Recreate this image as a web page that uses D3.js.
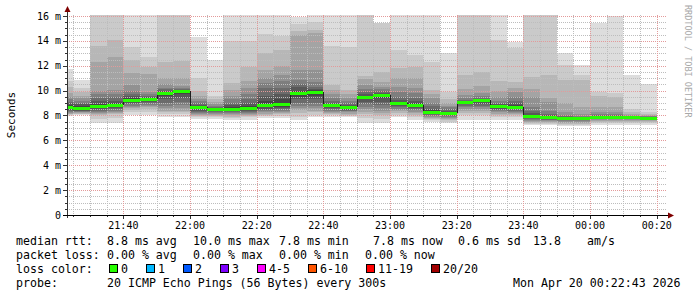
<!DOCTYPE html>
<html>
<head>
<meta charset="utf-8">
<script src="https://cdn.jsdelivr.net/npm/d3@7"></script>
<style>
  body { margin: 0; background: #fff; }
  text { font-family: "DejaVu Sans Mono", monospace; white-space: pre; }
</style>
</head>
<body>
<svg id="chart"></svg>
<script>
// ---- data ----
// 20 sorted ping rtts per 5 minute step, in ms, highest first
const pings = [
  [11.7, 10.8, 10.3, 9.8, 9.5, 9.3, 9.1, 9.0, 8.85, 8.75, 8.65, 8.55, 8.45, 8.35, 8.3, 8.2, 8.15, 8.1, 8.0, 7.94],
  [10.85, 10.2, 9.9, 9.6, 9.4, 9.2, 9.0, 8.9, 8.75, 8.65, 8.55, 8.45, 8.4, 8.35, 8.3, 8.25, 8.2, 8.15, 8.1, 8.0],
  [17.5, 16.5, 13.6, 12.3, 10.0, 9.7, 9.4, 9.15, 8.95, 8.8, 8.72, 8.6, 8.5, 8.4, 8.3, 8.2, 8.1, 8.0, 7.75, 7.42],
  [17.5, 16.5, 14.07, 12.7, 10.05, 9.75, 9.45, 9.2, 9.0, 8.88, 8.8, 8.7, 8.6, 8.5, 8.4, 8.3, 8.2, 8.1, 7.8, 7.42],
  [17, 13.5, 12.5, 11.4, 10.45, 10.0, 9.75, 9.55, 9.4, 9.28, 9.2, 9.1, 9.0, 8.9, 8.8, 8.7, 8.6, 8.45, 8.25, 8.0],
  [17, 12.7, 11.9, 11.3, 9.9, 9.75, 9.6, 9.5, 9.4, 9.33, 9.27, 9.17, 9.07, 8.97, 8.87, 8.77, 8.65, 8.5, 8.3, 8.06],
  [17.5, 16.5, 12.3, 11.0, 10.5, 10.25, 10.1, 10.0, 9.92, 9.86, 9.8, 9.6, 9.3, 9.0, 8.8, 8.6, 8.4, 8.25, 8.1, 7.9],
  [17.5, 16.5, 12.4, 11.0, 10.4, 10.25, 10.15, 10.08, 10.03, 10.0, 9.94, 9.7, 9.4, 9.1, 8.85, 8.6, 8.4, 8.25, 8.1, 7.9],
  [14.33, 11.0, 9.97, 9.6, 9.35, 9.15, 9.0, 8.88, 8.78, 8.7, 8.6, 8.5, 8.4, 8.3, 8.2, 8.1, 8.0, 7.95, 7.85, 7.73],
  [12.5, 9.57, 9.3, 9.1, 8.95, 8.8, 8.7, 8.62, 8.56, 8.52, 8.48, 8.42, 8.35, 8.28, 8.2, 8.12, 8.05, 7.95, 7.85, 7.7],
  [17, 14.0, 10.6, 10.05, 9.6, 9.3, 9.0, 8.85, 8.7, 8.6, 8.5, 8.42, 8.35, 8.28, 8.2, 8.1, 8.0, 7.9, 7.8, 7.64],
  [17, 14.0, 11.9, 10.8, 10.2, 9.7, 9.3, 9.0, 8.8, 8.65, 8.55, 8.45, 8.38, 8.3, 8.22, 8.15, 8.05, 7.95, 7.85, 7.64],
  [17, 14.55, 13.05, 11.66, 10.99, 10.6, 10.2, 9.6, 9.2, 8.9, 8.78, 8.65, 8.55, 8.45, 8.35, 8.25, 8.15, 8.05, 7.95, 7.77],
  [17, 14.4, 13.26, 11.98, 11.25, 10.8, 10.2, 9.7, 9.3, 8.95, 8.85, 8.72, 8.6, 8.5, 8.4, 8.3, 8.2, 8.1, 7.95, 7.77],
  [15.9, 15.35, 14.8, 14.5, 11.66, 10.85, 10.5, 10.26, 10.0, 9.85, 9.75, 9.5, 9.3, 9.0, 8.8, 8.6, 8.44, 8.2, 7.9, 7.64],
  [17, 15.5, 14.9, 14.6, 11.66, 10.7, 10.3, 10.15, 10.02, 9.95, 9.87, 9.6, 9.3, 9.0, 8.8, 8.6, 8.4, 8.25, 8.05, 7.85],
  [17, 13.6, 10.45, 10.05, 9.7, 9.4, 9.2, 9.0, 8.9, 8.85, 8.79, 8.7, 8.6, 8.5, 8.4, 8.3, 8.2, 8.1, 8.0, 7.9],
  [17, 13.5, 10.05, 9.7, 9.4, 9.2, 9.0, 8.85, 8.75, 8.68, 8.62, 8.55, 8.48, 8.4, 8.33, 8.25, 8.15, 8.05, 7.95, 7.85],
  [17.5, 16.5, 11.2, 10.9, 10.45, 10.1, 9.85, 9.7, 9.6, 9.54, 9.48, 9.3, 9.1, 8.9, 8.7, 8.5, 8.3, 8.1, 7.8, 7.37],
  [15.45, 15.4, 11.52, 10.7, 10.3, 10.1, 9.95, 9.8, 9.72, 9.67, 9.62, 9.4, 9.1, 8.85, 8.6, 8.4, 8.2, 8.0, 7.7, 7.37],
  [17, 13.26, 11.8, 11.0, 10.3, 9.9, 9.5, 9.25, 9.1, 9.02, 8.94, 8.85, 8.75, 8.65, 8.55, 8.45, 8.35, 8.2, 8.05, 7.85],
  [17, 12.86, 11.9, 11.0, 10.25, 9.8, 9.4, 9.15, 9.0, 8.92, 8.82, 8.72, 8.62, 8.52, 8.42, 8.32, 8.2, 8.05, 7.9, 7.64],
  [17, 12.33, 10.05, 9.7, 9.4, 9.0, 8.75, 8.55, 8.42, 8.34, 8.26, 8.2, 8.12, 8.05, 7.98, 7.9, 7.82, 7.75, 7.65, 7.5],
  [13.05, 9.91, 9.3, 9.0, 8.8, 8.65, 8.5, 8.38, 8.28, 8.2, 8.14, 8.08, 8.0, 7.92, 7.85, 7.78, 7.7, 7.6, 7.5, 7.37],
  [17.5, 16.5, 11.25, 10.1, 9.65, 9.4, 9.28, 9.2, 9.15, 9.13, 9.09, 9.0, 8.9, 8.78, 8.65, 8.5, 8.35, 8.2, 8.0, 7.64],
  [17.5, 16.5, 11.5, 10.35, 9.8, 9.55, 9.4, 9.32, 9.28, 9.26, 9.22, 9.1, 8.95, 8.8, 8.65, 8.5, 8.35, 8.2, 8.0, 7.64],
  [17, 14.07, 10.8, 10.0, 9.5, 9.2, 9.0, 8.9, 8.83, 8.79, 8.73, 8.65, 8.55, 8.45, 8.35, 8.25, 8.12, 8.0, 7.85, 7.64],
  [13.93, 13.4, 10.7, 10.2, 9.9, 9.5, 9.2, 9.0, 8.85, 8.75, 8.67, 8.6, 8.5, 8.4, 8.3, 8.2, 8.1, 8.0, 7.85, 7.64],
  [17.5, 16.5, 11.1, 10.1, 9.5, 8.7, 8.4, 8.2, 8.05, 8.0, 7.92, 7.85, 7.8, 7.72, 7.65, 7.57, 7.5, 7.42, 7.33, 7.23],
  [17.5, 16.5, 11.25, 9.38, 9.1, 8.4, 8.15, 8.0, 7.92, 7.88, 7.82, 7.77, 7.72, 7.66, 7.6, 7.53, 7.46, 7.4, 7.32, 7.23],
  [13.05, 12.06, 10.85, 9.03, 8.3, 8.05, 7.95, 7.88, 7.83, 7.8, 7.74, 7.7, 7.65, 7.6, 7.55, 7.48, 7.42, 7.35, 7.25, 7.15],
  [12.06, 11.25, 10.85, 8.7, 8.1, 7.95, 7.88, 7.84, 7.81, 7.79, 7.75, 7.7, 7.65, 7.6, 7.55, 7.48, 7.42, 7.35, 7.25, 7.15],
  [15.46, 9.91, 9.6, 8.7, 8.3, 8.1, 8.0, 7.96, 7.93, 7.91, 7.88, 7.84, 7.8, 7.75, 7.7, 7.63, 7.55, 7.47, 7.37, 7.23],
  [16.0, 9.78, 9.5, 8.7, 8.3, 8.12, 8.02, 7.97, 7.94, 7.92, 7.88, 7.84, 7.8, 7.75, 7.7, 7.63, 7.55, 7.47, 7.37, 7.23],
  [11.25, 8.5, 8.3, 8.15, 8.05, 7.98, 7.93, 7.9, 7.88, 7.86, 7.84, 7.81, 7.78, 7.74, 7.7, 7.65, 7.58, 7.5, 7.4, 7.23],
  [10.53, 8.3, 8.15, 8.05, 7.98, 7.93, 7.9, 7.87, 7.85, 7.83, 7.81, 7.78, 7.75, 7.72, 7.68, 7.63, 7.56, 7.48, 7.38, 7.23]
];

// median rtt per step (ms)
const medians = [8.7, 8.6, 8.76, 8.84, 9.24, 9.3, 9.83, 9.97, 8.65, 8.5, 8.55, 8.6, 8.84, 8.9, 9.8, 9.91,
  8.82, 8.65, 9.51, 9.65, 8.98, 8.87, 8.3, 8.17, 9.11, 9.24, 8.76, 8.71, 7.96, 7.85, 7.77, 7.77, 7.9, 7.9, 7.85, 7.82];

// lost pings per step
const losses = [0, 0, 0, 0, 0, 0, 0, 0, 0, 0, 0, 0, 0, 0, 0, 0, 0, 0, 0, 0, 0, 0, 0, 0, 0, 0, 0, 0, 0, 0, 0, 0, 0, 0, 0, 0];

const lossLabels = ["0", "1", "2", "3", "4-5", "6-10", "11-19", "20/20"];
const lossMax = [0, 1, 2, 3, 5, 10, 19, 20];
const lossColors = ["#26ff00", "#00b8ff", "#0059ff", "#7e00ff", "#ff00ff", "#ff5500", "#ff0000", "#a10000"];

const yTicksMajor = [0, 2, 4, 6, 8, 10, 12, 14, 16];

const rttStats = [["median rtt:", 16], ["8.8 ms avg", 107], ["10.0 ms max", 193], ["7.8 ms min", 279],
  ["7.8 ms now", 373], ["0.6 ms sd", 458], ["13.8", 533], ["am/s", 587]];
const lossStats = [["packet loss:", 16], ["0.00 % avg", 107], ["0.00 % max", 193], ["0.00 % min", 279],
  ["0.00 % now", 365]];
const probeText = "20 ICMP Echo Pings (56 Bytes) every 300s";
const dateText = "Mon Apr 20 00:22:43 2026";

// ---- layout ----
const W = 697, H = 297;
const plot = { left: 67, right: 667, top: 15, bottom: 215 };

const svg = d3.select("#chart").attr("width", W).attr("height", H);
svg.append("rect").attr("width", W).attr("height", H).attr("fill", "#fff");

const x = d3.scaleTime()
  .domain([new Date(2026, 3, 19, 21, 23, 5), new Date(2026, 3, 20, 0, 23, 5)])
  .range([plot.left, plot.right]);
const y = d3.scaleLinear().domain([0, 16.08]).range([plot.bottom, plot.top]);

const firstEnd = new Date(2026, 3, 19, 21, 25);
const steps = pings.map((p, i) => {
  const end = d3.timeMinute.offset(firstEnd, 5 * i);
  return {
    start: d3.timeMinute.offset(end, -5),
    end: end,
    sorted: p.slice().sort(d3.ascending),
    median: medians[i],
    loss: losses[i]
  };
});

svg.append("clipPath").attr("id", "clip")
  .append("rect")
  .attr("x", plot.left).attr("y", plot.top)
  .attr("width", plot.right - plot.left).attr("height", plot.bottom - plot.top);

// smoke: band k spans ping k .. ping 21-k, darker towards the middle
const shade = k => { const c = Math.round(190 / 10 * (10 - k) + 50); return d3.rgb(c, c, c).formatHex(); };

const smoke = svg.append("g").attr("clip-path", "url(#clip)").attr("shape-rendering", "crispEdges");
smoke.selectAll("g.step")
  .data(steps)
  .join("g").attr("class", "step")
  .selectAll("rect")
  .data(d => d3.range(10).map(k => ({ d: d, k: k })))
  .join("rect")
  .attr("x", b => Math.round(x(b.d.start)))
  .attr("width", b => Math.round(x(b.d.end)) - Math.round(x(b.d.start)))
  .attr("y", b => Math.round(y(b.d.sorted[19 - b.k])))
  .attr("height", b => Math.round(y(b.d.sorted[b.k])) - Math.round(y(b.d.sorted[19 - b.k])))
  .attr("fill", b => shade(b.k + 1));

// grid
const grid = svg.append("g").attr("shape-rendering", "crispEdges");
const minorY = d3.range(0, 16.01, 0.5).filter(v => v % 2 !== 0);
const minorX = d3.timeMinute.every(5).range(x.domain()[0], x.domain()[1]).filter(t => t.getMinutes() % 20 !== 0);
const majorX = d3.timeMinute.every(20).range(x.domain()[0], x.domain()[1]);
const px = v => Math.round(v) + 0.5;

grid.selectAll(".hminor").data(minorY).join("line")
  .attr("x1", plot.left).attr("x2", plot.right)
  .attr("y1", d => px(y(d))).attr("y2", d => px(y(d)))
  .attr("stroke", "#bdbdbd").attr("stroke-dasharray", "1,1");
grid.selectAll(".vminor").data(minorX).join("line")
  .attr("x1", d => px(x(d))).attr("x2", d => px(x(d)))
  .attr("y1", plot.top).attr("y2", plot.bottom)
  .attr("stroke", "#bdbdbd").attr("stroke-dasharray", "1,1");
grid.selectAll(".hmajor").data(yTicksMajor.filter(v => v > 0)).join("line")
  .attr("x1", plot.left).attr("x2", plot.right)
  .attr("y1", d => px(y(d))).attr("y2", d => px(y(d)))
  .attr("stroke", "#e39a9a").attr("stroke-dasharray", "1,1");
grid.selectAll(".vmajor").data(majorX).join("line")
  .attr("x1", d => px(x(d))).attr("x2", d => px(x(d)))
  .attr("y1", plot.top).attr("y2", plot.bottom)
  .attr("stroke", "#e39a9a").attr("stroke-dasharray", "1,1");

// median line
const med = svg.append("g").attr("clip-path", "url(#clip)").attr("shape-rendering", "crispEdges");
med.selectAll("line.conn").data(steps.slice(1)).join("line")
  .attr("class", "conn")
  .attr("x1", d => px(x(d.start))).attr("x2", d => px(x(d.start)))
  .attr("y1", (d, i) => Math.round(y(steps[i].median)))
  .attr("y2", d => Math.round(y(d.median)))
  .attr("stroke", "#202020");
const lossColor = l => lossColors[lossMax.findIndex(m => l <= m)];
med.selectAll("rect.med").data(steps).join("rect")
  .attr("class", "med")
  .attr("x", d => Math.round(x(d.start)))
  .attr("width", d => Math.round(x(d.end)) - Math.round(x(d.start)))
  .attr("y", d => Math.round(y(d.median)) - 1)
  .attr("height", 3)
  .attr("fill", d => lossColor(d.loss));

// axes
const axis = svg.append("g").attr("shape-rendering", "crispEdges");
axis.selectAll(".ytick").data(d3.range(0, 16.01, 0.5)).join("line")
  .attr("x1", d => d % 2 === 0 ? plot.left - 4 : plot.left - 2).attr("x2", plot.left)
  .attr("y1", d => px(y(d))).attr("y2", d => px(y(d)))
  .attr("stroke", "#333");
axis.selectAll(".xtick").data(minorX.concat(majorX)).join("line")
  .attr("x1", d => px(x(d))).attr("x2", d => px(x(d)))
  .attr("y1", plot.bottom).attr("y2", d => d.getMinutes() % 20 === 0 ? plot.bottom + 4 : plot.bottom + 2)
  .attr("stroke", "#333");
axis.append("line")
  .attr("x1", plot.left + 0.5).attr("x2", plot.left + 0.5)
  .attr("y1", plot.bottom + 3).attr("y2", 10)
  .attr("stroke", "#333");
axis.append("line")
  .attr("x1", plot.left - 4).attr("x2", 669)
  .attr("y1", plot.bottom + 0.5).attr("y2", plot.bottom + 0.5)
  .attr("stroke", "#000");
svg.append("path").attr("d", "M64.5,12 L70.5,12 L67.5,6 Z").attr("fill", "#7f0000");
svg.append("path").attr("d", "M668,212.5 L668,218.5 L674,215.5 Z").attr("fill", "#7f0000");

svg.selectAll(".ylab").data(yTicksMajor).join("text")
  .attr("x", 61).attr("y", d => y(d)).attr("dy", "0.36em")
  .attr("text-anchor", "end").attr("font-size", 10)
  .text(d => d === 0 ? "0" : d + " m");
svg.selectAll(".xlab").data(majorX).join("text")
  .attr("x", d => x(d)).attr("y", 229)
  .attr("text-anchor", "middle").attr("font-size", 10)
  .text(d => d3.timeFormat("%H:%M")(d));

svg.append("text")
  .attr("transform", "translate(15,115) rotate(-90)")
  .attr("text-anchor", "middle").attr("font-size", 11)
  .text("Seconds");
svg.append("text")
  .attr("transform", "translate(685,5) rotate(90)")
  .attr("font-size", 8.5).attr("fill", "#a8a8a8")
  .text("RRDTOOL / TOBI OETIKER");

// legend
const leg = svg.append("g").attr("font-size", 11.6);
leg.selectAll(".rtt").data(rttStats).join("text")
  .attr("x", d => d[1]).attr("y", 245).text(d => d[0]);
leg.selectAll(".pl").data(lossStats).join("text")
  .attr("x", d => d[1]).attr("y", 259).text(d => d[0]);
leg.append("text").attr("x", 16).attr("y", 273).text("loss color:");
let bx = 109;
lossLabels.forEach((lab, i) => {
  leg.append("rect").attr("x", bx + 0.5).attr("y", 264.5).attr("width", 8).attr("height", 8)
    .attr("fill", lossColors[i]).attr("stroke", "#000").attr("shape-rendering", "crispEdges");
  leg.append("text").attr("x", bx + 12).attr("y", 273).text(lab);
  bx += 12 + lab.length * 7 + 18;
});
leg.append("text").attr("x", 16).attr("y", 287).text("probe:");
leg.append("text").attr("x", 107).attr("y", 287).text(probeText);
leg.append("text").attr("x", 513).attr("y", 287).text(dateText);
</script>
</body>
</html>
